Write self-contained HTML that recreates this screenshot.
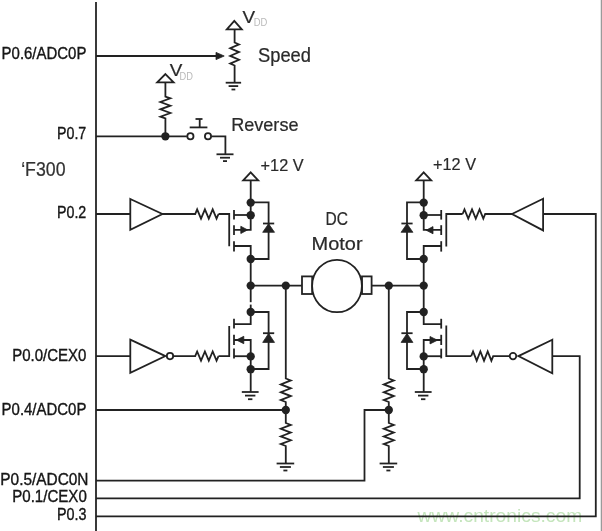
<!DOCTYPE html>
<html><head><meta charset="utf-8"><title>DC Motor H-bridge</title>
<style>
html,body{margin:0;padding:0;background:#fff;}
body{width:602px;height:531px;overflow:hidden;position:relative;}
svg{display:block;position:absolute;left:0;top:0;}
svg text{font-family:"Liberation Sans",sans-serif;}
.edge{position:absolute;right:0;top:0;width:1px;height:531px;background:#9a9a9a;}
.edge2{position:absolute;right:1px;top:0;width:1px;height:531px;background:#e4e4e4;}
</style></head><body>
<svg width="602" height="531" viewBox="0 0 602 531">
<defs><filter id="soft" x="0" y="0" width="602" height="531" filterUnits="userSpaceOnUse"><feGaussianBlur stdDeviation="0.3"/></filter></defs>
<g filter="url(#soft)">
<g><text x="417.6" y="521.6" font-size="19" fill="#c4e5bc" stroke="none" text-anchor="start" textLength="164.6" lengthAdjust="spacingAndGlyphs">www.cntronics.com</text></g>
<g fill="none" stroke="#222222" stroke-width="1.8" stroke-linejoin="miter" stroke-linecap="butt">
<path d="M96.00 2.00 L96.00 531.00" />
<path d="M96.00 56.00 L217.00 56.00" />
<polygon points="216.00,52.40 224.20,56.00 216.00,59.60" fill="#222222" stroke-width="0.8"/>
<polygon points="234.30,20.80 241.80,29.40 226.80,29.40" fill="#fff"/>
<path d="M234.60 29.50 L234.60 42.50 L239.00 44.42 L230.20 48.25 L239.00 52.08 L230.20 55.92 L239.00 59.75 L230.20 63.58 L234.60 65.50 L234.60 82.70" />
<path d="M225.70 82.70 L241.10 82.70" />
<path d="M228.60 86.10 L238.20 86.10" />
<path d="M231.50 89.50 L235.30 89.50" />
<polygon points="165.40,74.10 173.60,82.30 157.20,82.30" fill="#fff"/>
<path d="M165.40 82.40 L165.40 96.50 L170.40 98.33 L160.40 102.00 L170.40 105.67 L160.40 109.33 L170.40 113.00 L160.40 116.67 L165.40 118.50 L165.40 136.30" />
<path d="M96.00 136.30 L186.90 136.30" />
<circle cx="165.40" cy="136.30" r="4.15" fill="#222222" stroke="none"/>
<circle cx="190.40" cy="136.30" r="3.1" fill="#fff"/>
<circle cx="208.00" cy="136.30" r="3.1" fill="#fff"/>
<path d="M189.70 127.40 L207.40 127.40" />
<path d="M199.70 119.00 L199.70 127.40" />
<path d="M195.50 119.00 L202.50 119.00" />
<path d="M211.40 136.30 L225.40 136.30 L225.40 154.30" />
<path d="M216.50 154.30 L233.50 154.30" />
<path d="M220.00 157.70 L230.00 157.70" />
<path d="M223.00 161.10 L227.00 161.10" />
<polygon points="250.70,172.30 258.20,180.40 243.20,180.40" fill="#fff"/>
<path d="M250.70 180.70 L250.70 229.90 L234.00 229.90" />
<path d="M250.70 215.00 L234.00 215.00" />
<path d="M234.00 210.00 L234.00 219.60" />
<path d="M234.00 225.20 L234.00 235.00" />
<path d="M234.00 241.20 L234.00 251.60" />
<path d="M234.00 246.00 L250.70 246.00 L250.70 324.20 L234.00 324.20" />
<polygon points="247.60,229.90 240.80,226.30 240.80,233.50" fill="#222222" stroke-width="0.8"/>
<path d="M250.70 202.40 L268.60 202.40 L268.60 259.00 L250.70 259.00" />
<path d="M263.00 223.50 L274.20 223.50" />
<polygon points="268.60,223.80 274.50,232.30 262.70,232.30" fill="#222222" stroke-width="0.8"/>
<circle cx="250.70" cy="202.60" r="4.15" fill="#222222" stroke="none"/>
<circle cx="250.70" cy="215.20" r="4.15" fill="#222222" stroke="none"/>
<circle cx="250.70" cy="259.00" r="4.15" fill="#222222" stroke="none"/>
<circle cx="250.70" cy="285.60" r="4.15" fill="#222222" stroke="none"/>
<circle cx="250.70" cy="312.00" r="4.15" fill="#222222" stroke="none"/>
<path d="M234.00 318.80 L234.00 328.60" />
<path d="M234.00 334.80 L234.00 345.00" />
<path d="M234.00 348.60 L234.00 358.40" />
<path d="M234.00 340.00 L250.70 340.00 L250.70 392.00" />
<path d="M234.00 356.20 L250.70 356.20" />
<polygon points="236.40,340.00 243.80,336.30 243.80,343.70" fill="#222222" stroke-width="0.8"/>
<path d="M250.70 312.00 L268.60 312.00 L268.60 369.00 L250.70 369.00" />
<path d="M263.00 333.20 L274.20 333.20" />
<polygon points="268.60,333.50 274.50,342.40 262.70,342.40" fill="#222222" stroke-width="0.8"/>
<circle cx="250.70" cy="356.40" r="4.15" fill="#222222" stroke="none"/>
<circle cx="250.70" cy="369.20" r="4.15" fill="#222222" stroke="none"/>
<path d="M241.80 392.00 L258.60 392.00" />
<path d="M245.00 395.60 L255.40 395.60" />
<path d="M248.00 399.20 L252.40 399.20" />
<polygon points="423.70,172.30 431.20,180.40 416.20,180.40" fill="#fff"/>
<path d="M423.70 180.70 L423.70 229.90 L441.20 229.90" />
<path d="M423.70 215.00 L441.20 215.00" />
<path d="M441.20 210.00 L441.20 219.60" />
<path d="M441.20 225.20 L441.20 235.00" />
<path d="M441.20 241.20 L441.20 251.60" />
<path d="M441.20 246.00 L423.70 246.00 L423.70 324.20 L441.20 324.20" />
<polygon points="426.20,230.20 433.00,226.60 433.00,233.80" fill="#222222" stroke-width="0.8"/>
<path d="M423.70 202.40 L407.00 202.40 L407.00 259.00 L423.70 259.00" />
<path d="M401.40 223.50 L412.60 223.50" />
<polygon points="407.00,223.80 412.90,232.30 401.10,232.30" fill="#222222" stroke-width="0.8"/>
<circle cx="423.70" cy="202.60" r="4.15" fill="#222222" stroke="none"/>
<circle cx="423.70" cy="215.20" r="4.15" fill="#222222" stroke="none"/>
<circle cx="423.70" cy="259.00" r="4.15" fill="#222222" stroke="none"/>
<circle cx="423.70" cy="285.60" r="4.15" fill="#222222" stroke="none"/>
<circle cx="423.70" cy="312.00" r="4.15" fill="#222222" stroke="none"/>
<path d="M441.20 318.80 L441.20 328.60" />
<path d="M441.20 334.80 L441.20 345.00" />
<path d="M441.20 348.60 L441.20 358.40" />
<path d="M441.20 340.00 L423.70 340.00 L423.70 392.00" />
<path d="M441.20 356.20 L423.70 356.20" />
<polygon points="437.40,340.20 430.00,336.50 430.00,343.90" fill="#222222" stroke-width="0.8"/>
<path d="M423.70 312.00 L407.00 312.00 L407.00 369.00 L423.70 369.00" />
<path d="M401.40 333.20 L412.60 333.20" />
<polygon points="407.00,333.50 412.90,342.40 401.10,342.40" fill="#222222" stroke-width="0.8"/>
<circle cx="423.70" cy="356.40" r="4.15" fill="#222222" stroke="none"/>
<circle cx="423.70" cy="369.20" r="4.15" fill="#222222" stroke="none"/>
<path d="M414.80 392.00 L431.60 392.00" />
<path d="M418.00 395.60 L428.40 395.60" />
<path d="M421.00 399.20 L425.40 399.20" />
<rect x="248" y="302.2" width="5.4" height="2.4" fill="#fff" stroke="none"/>
<path d="M229.20 246.30 L229.20 214.00 L218.50 214.00" />
<path d="M229.20 326.00 L229.20 356.10 L218.50 356.10" />
<path d="M446.30 246.60 L446.30 214.00 L462.60 214.00" />
<path d="M446.30 325.50 L446.30 356.10 L471.20 356.10" />
<path d="M96.00 214.00 L130.40 214.00" />
<polygon points="130.30,199.00 162.40,214.00 130.30,229.70" fill="#fff"/>
<path d="M161.90 214.00 L195.20 214.00 L197.14 209.40 L201.02 218.60 L204.91 209.40 L208.79 218.60 L212.68 209.40 L216.56 218.60 L218.50 214.00" />
<path d="M96.00 356.10 L130.40 356.10" />
<polygon points="130.30,339.60 165.40,356.10 130.30,372.80" fill="#fff"/>
<circle cx="170.00" cy="356.10" r="3.2" fill="#fff"/>
<path d="M173.20 356.10 L195.20 356.10 L197.14 351.50 L201.02 360.70 L204.91 351.50 L208.79 360.70 L212.68 351.50 L216.56 360.70 L218.50 356.10" />
<path d="M462.60 214.00 L464.48 209.40 L468.25 218.60 L472.02 209.40 L475.78 218.60 L479.55 209.40 L483.32 218.60 L485.20 214.00 L512.00 214.00" />
<polygon points="543.10,198.70 512.00,214.00 543.10,230.40" fill="#fff"/>
<path d="M543.00 214.00 L595.80 214.00 L595.80 516.30 L96.00 516.30" />
<path d="M471.20 356.10 L473.03 351.50 L476.70 360.70 L480.37 351.50 L484.03 360.70 L487.70 351.50 L491.37 360.70 L493.20 356.10 L509.60 356.10" />
<circle cx="513.00" cy="356.10" r="3.3" fill="#fff"/>
<polygon points="552.30,339.80 518.40,356.10 552.30,373.20" fill="#fff"/>
<path d="M552.20 356.10 L579.70 356.10 L579.70 498.30 L96.00 498.30" />
<path d="M250.70 285.60 L302.00 285.60" />
<path d="M371.60 285.60 L423.70 285.60" />
<rect x="302" y="276.4" width="10.2" height="17.6" fill="#fff"/>
<rect x="362.0" y="276.4" width="9.6" height="17.6" fill="#fff"/>
<ellipse cx="337.0" cy="286.0" rx="24.9" ry="26.2" fill="#fff"/>
<path d="M285.80 285.60 L285.80 378.50 L290.80 380.46 L280.80 384.38 L290.80 388.29 L280.80 392.21 L290.80 396.12 L280.80 400.04 L285.80 402.00 L285.80 423.00 L290.80 424.92 L280.80 428.75 L290.80 432.58 L280.80 436.42 L290.80 440.25 L280.80 444.08 L285.80 446.00 L285.80 463.50" />
<circle cx="285.80" cy="285.60" r="4.15" fill="#222222" stroke="none"/>
<circle cx="285.80" cy="410.00" r="4.15" fill="#222222" stroke="none"/>
<path d="M276.60 463.50 L294.20 463.50" />
<path d="M279.90 467.00 L290.90 467.00" />
<path d="M283.40 470.50 L287.40 470.50" />
<path d="M388.80 285.60 L388.80 378.50 L393.80 380.46 L383.80 384.38 L393.80 388.29 L383.80 392.21 L393.80 396.12 L383.80 400.04 L388.80 402.00 L388.80 423.00 L393.80 424.92 L383.80 428.75 L393.80 432.58 L383.80 436.42 L393.80 440.25 L383.80 444.08 L388.80 446.00 L388.80 463.50" />
<circle cx="388.80" cy="285.60" r="4.15" fill="#222222" stroke="none"/>
<circle cx="388.80" cy="410.00" r="4.15" fill="#222222" stroke="none"/>
<path d="M379.60 463.50 L397.20 463.50" />
<path d="M382.90 467.00 L393.90 467.00" />
<path d="M386.40 470.50 L390.40 470.50" />
<path d="M96.00 410.00 L285.80 410.00" />
<path d="M388.80 410.00 L364.50 410.00 L364.50 480.60 L96.00 480.60" />
</g>
<g>
<text x="1.6" y="58.8" font-size="16" fill="#141414" stroke="#141414" stroke-width="0.35" text-anchor="start" textLength="84.8" lengthAdjust="spacingAndGlyphs">P0.6/ADC0P</text>
<text x="57.0" y="138.8" font-size="16" fill="#141414" stroke="#141414" stroke-width="0.35" text-anchor="start" textLength="29.3" lengthAdjust="spacingAndGlyphs">P0.7</text>
<text x="21.2" y="176.0" font-size="19.5" fill="#333" stroke="#333" stroke-width="0.22" text-anchor="start" textLength="44.3" lengthAdjust="spacingAndGlyphs">&#8216;F300</text>
<text x="57.0" y="218.0" font-size="16" fill="#141414" stroke="#141414" stroke-width="0.35" text-anchor="start" textLength="29.3" lengthAdjust="spacingAndGlyphs">P0.2</text>
<text x="12.2" y="360.8" font-size="16" fill="#141414" stroke="#141414" stroke-width="0.35" text-anchor="start" textLength="74.2" lengthAdjust="spacingAndGlyphs">P0.0/CEX0</text>
<text x="1.6" y="414.5" font-size="16" fill="#141414" stroke="#141414" stroke-width="0.35" text-anchor="start" textLength="84.8" lengthAdjust="spacingAndGlyphs">P0.4/ADC0P</text>
<text x="0.3" y="484.8" font-size="16" fill="#141414" stroke="#141414" stroke-width="0.35" text-anchor="start" textLength="88.2" lengthAdjust="spacingAndGlyphs">P0.5/ADC0N</text>
<text x="12.2" y="502.4" font-size="16" fill="#141414" stroke="#141414" stroke-width="0.35" text-anchor="start" textLength="74.6" lengthAdjust="spacingAndGlyphs">P0.1/CEX0</text>
<text x="57.0" y="520.3" font-size="16" fill="#141414" stroke="#141414" stroke-width="0.35" text-anchor="start" textLength="29.5" lengthAdjust="spacingAndGlyphs">P0.3</text>
<text x="258.0" y="62.2" font-size="19.6" fill="#2a2a2a" stroke="#2a2a2a" stroke-width="0.22" text-anchor="start" textLength="53.0" lengthAdjust="spacingAndGlyphs">Speed</text>
<text x="231.2" y="130.8" font-size="18.6" fill="#2a2a2a" stroke="#2a2a2a" stroke-width="0.22" text-anchor="start" textLength="67.3" lengthAdjust="spacingAndGlyphs">Reverse</text>
<text x="242.6" y="22.5" font-size="16.5" fill="#2a2a2a" stroke="#2a2a2a" stroke-width="0.22" text-anchor="start" textLength="12.6" lengthAdjust="spacingAndGlyphs">V</text>
<text x="253.8" y="26.0" font-size="10" fill="#b9b9b9" stroke="none" text-anchor="start" textLength="13.6" lengthAdjust="spacingAndGlyphs">DD</text>
<text x="169.8" y="76.3" font-size="16.5" fill="#2a2a2a" stroke="#2a2a2a" stroke-width="0.22" text-anchor="start" textLength="12.6" lengthAdjust="spacingAndGlyphs">V</text>
<text x="179.6" y="79.7" font-size="10" fill="#b9b9b9" stroke="none" text-anchor="start" textLength="13.4" lengthAdjust="spacingAndGlyphs">DD</text>
<text x="260.6" y="170.5" font-size="17.3" fill="#2a2a2a" stroke="#2a2a2a" stroke-width="0.22" text-anchor="start" textLength="43.0" lengthAdjust="spacingAndGlyphs">+12 V</text>
<text x="433.0" y="170.3" font-size="17.3" fill="#2a2a2a" stroke="#2a2a2a" stroke-width="0.22" text-anchor="start" textLength="43.0" lengthAdjust="spacingAndGlyphs">+12 V</text>
<text x="325.6" y="225.2" font-size="19.2" fill="#2a2a2a" stroke="#2a2a2a" stroke-width="0.22" text-anchor="start" textLength="22.4" lengthAdjust="spacingAndGlyphs">DC</text>
<text x="311.6" y="250.3" font-size="18.8" fill="#2a2a2a" stroke="#2a2a2a" stroke-width="0.22" text-anchor="start" textLength="51.0" lengthAdjust="spacingAndGlyphs">Motor</text>
</g>
</g>
</svg>
<div class="edge2"></div><div class="edge"></div>
</body></html>
